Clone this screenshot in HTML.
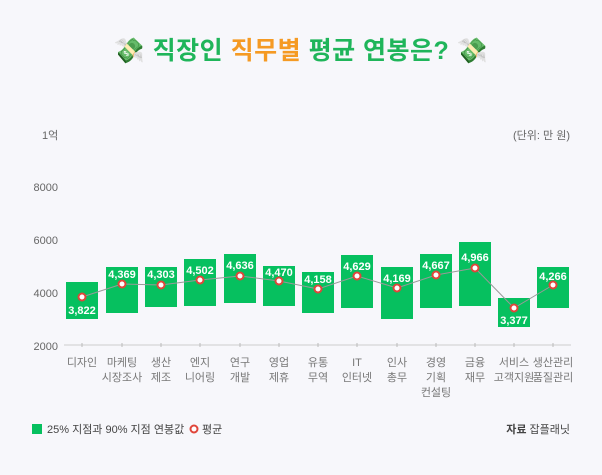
<!DOCTYPE html>
<html><head><meta charset="utf-8"><style>
html,body{margin:0;padding:0;background:#f7f7fb;}
svg{display:block;font-family:"Liberation Sans","Noto Sans CJK KR",sans-serif;}
</style></head><body>
<svg width="602" height="475" viewBox="0 0 602 475" xmlns="http://www.w3.org/2000/svg">
<rect width="602" height="475" fill="#f7f7fb"/>
<text x="301" y="59" text-anchor="middle" font-size="25" font-weight="bold" fill="#1fb55a" letter-spacing="0.5"><tspan>💸 직장인 </tspan><tspan fill="#f59a23">직무별</tspan><tspan> 평균 연봉은? 💸</tspan></text>
<g font-size="11" fill="#666">
<text x="42" y="139">1억</text>
<text x="570" y="139" text-anchor="end">(단위: 만 원)</text>
<text x="58" y="191" text-anchor="end">8000</text>
<text x="58" y="244" text-anchor="end">6000</text>
<text x="58" y="297" text-anchor="end">4000</text>
<text x="58" y="350" text-anchor="end">2000</text>
</g>
<line x1="64" y1="345" x2="571" y2="345" stroke="#ccc" stroke-width="1"/>
<g stroke="#bbb">
<line x1="82" y1="343" x2="82" y2="347"/><line x1="122" y1="343" x2="122" y2="347"/><line x1="161" y1="343" x2="161" y2="347"/><line x1="200" y1="343" x2="200" y2="347"/><line x1="240" y1="343" x2="240" y2="347"/><line x1="279" y1="343" x2="279" y2="347"/><line x1="318" y1="343" x2="318" y2="347"/><line x1="357" y1="343" x2="357" y2="347"/><line x1="397" y1="343" x2="397" y2="347"/><line x1="436" y1="343" x2="436" y2="347"/><line x1="475" y1="343" x2="475" y2="347"/><line x1="514" y1="343" x2="514" y2="347"/><line x1="553" y1="343" x2="553" y2="347"/>
</g>
<g fill="#06c05f">
<rect x="66" y="282" width="32" height="37"/>
<rect x="106" y="267" width="32" height="46"/>
<rect x="145" y="267" width="32" height="40"/>
<rect x="184" y="259" width="32" height="47"/>
<rect x="224" y="254" width="32" height="49"/>
<rect x="263" y="266" width="32" height="40"/>
<rect x="302" y="272" width="32" height="41"/>
<rect x="341" y="255" width="32" height="53"/>
<rect x="381" y="267" width="32" height="52"/>
<rect x="420" y="254" width="32" height="54"/>
<rect x="459" y="242" width="32" height="64"/>
<rect x="498" y="298" width="32" height="29"/>
<rect x="537" y="267" width="32" height="41"/>
</g>
<polyline fill="none" stroke="#999" stroke-width="1" points="82,297 122,284 161,285 200,280 240,276 279,281 318,289 357,276 397,288 436,275 475,268 514,308 553,285"/>
<g fill="#fff" stroke="#e0453a" stroke-width="2">
<circle cx="82" cy="297" r="3.5"/><circle cx="122" cy="284" r="3.5"/><circle cx="161" cy="285" r="3.5"/><circle cx="200" cy="280" r="3.5"/><circle cx="240" cy="276" r="3.5"/><circle cx="279" cy="281" r="3.5"/><circle cx="318" cy="289" r="3.5"/><circle cx="357" cy="276" r="3.5"/><circle cx="397" cy="288" r="3.5"/><circle cx="436" cy="275" r="3.5"/><circle cx="475" cy="268" r="3.5"/><circle cx="514" cy="308" r="3.5"/><circle cx="553" cy="285" r="3.5"/>
</g>
<g font-size="11" fill="#fff" text-anchor="middle" font-weight="bold">
<text x="82" y="314">3,822</text>
<text x="122" y="278">4,369</text>
<text x="161" y="278">4,303</text>
<text x="200" y="274">4,502</text>
<text x="240" y="269">4,636</text>
<text x="279" y="276">4,470</text>
<text x="318" y="283">4,158</text>
<text x="357" y="270">4,629</text>
<text x="397" y="282">4,169</text>
<text x="436" y="269">4,667</text>
<text x="475" y="261">4,966</text>
<text x="514" y="324">3,377</text>
<text x="553" y="280">4,266</text>
</g>
<g font-size="11" fill="#777" text-anchor="middle">
<text x="82" y="366">디자인</text>
<text x="122" y="366">마케팅<tspan x="122" dy="15">시장조사</tspan></text>
<text x="161" y="366">생산<tspan x="161" dy="15">제조</tspan></text>
<text x="200" y="366">엔지<tspan x="200" dy="15">니어링</tspan></text>
<text x="240" y="366">연구<tspan x="240" dy="15">개발</tspan></text>
<text x="279" y="366">영업<tspan x="279" dy="15">제휴</tspan></text>
<text x="318" y="366">유통<tspan x="318" dy="15">무역</tspan></text>
<text x="357" y="366">IT<tspan x="357" dy="15">인터넷</tspan></text>
<text x="397" y="366">인사<tspan x="397" dy="15">총무</tspan></text>
<text x="436" y="366">경영<tspan x="436" dy="15">기획</tspan><tspan x="436" dy="15">컨설팅</tspan></text>
<text x="475" y="366">금융<tspan x="475" dy="15">재무</tspan></text>
<text x="514" y="366">서비스<tspan x="514" dy="15">고객지원</tspan></text>
<text x="553" y="366">생산관리<tspan x="553" dy="15">품질관리</tspan></text>
</g>
<rect x="32" y="424" width="10" height="10" fill="#06c05f"/>
<text x="47" y="433" font-size="11" fill="#444">25% 지점과 90% 지점 연봉값</text>
<circle cx="194" cy="429" r="3.5" fill="#fff" stroke="#e0453a" stroke-width="2"/>
<text x="202" y="433" font-size="11" fill="#444">평균</text>
<text x="570" y="433" font-size="11" fill="#444" text-anchor="end"><tspan font-weight="bold">자료</tspan> 잡플래닛</text>
</svg>
</body></html>
